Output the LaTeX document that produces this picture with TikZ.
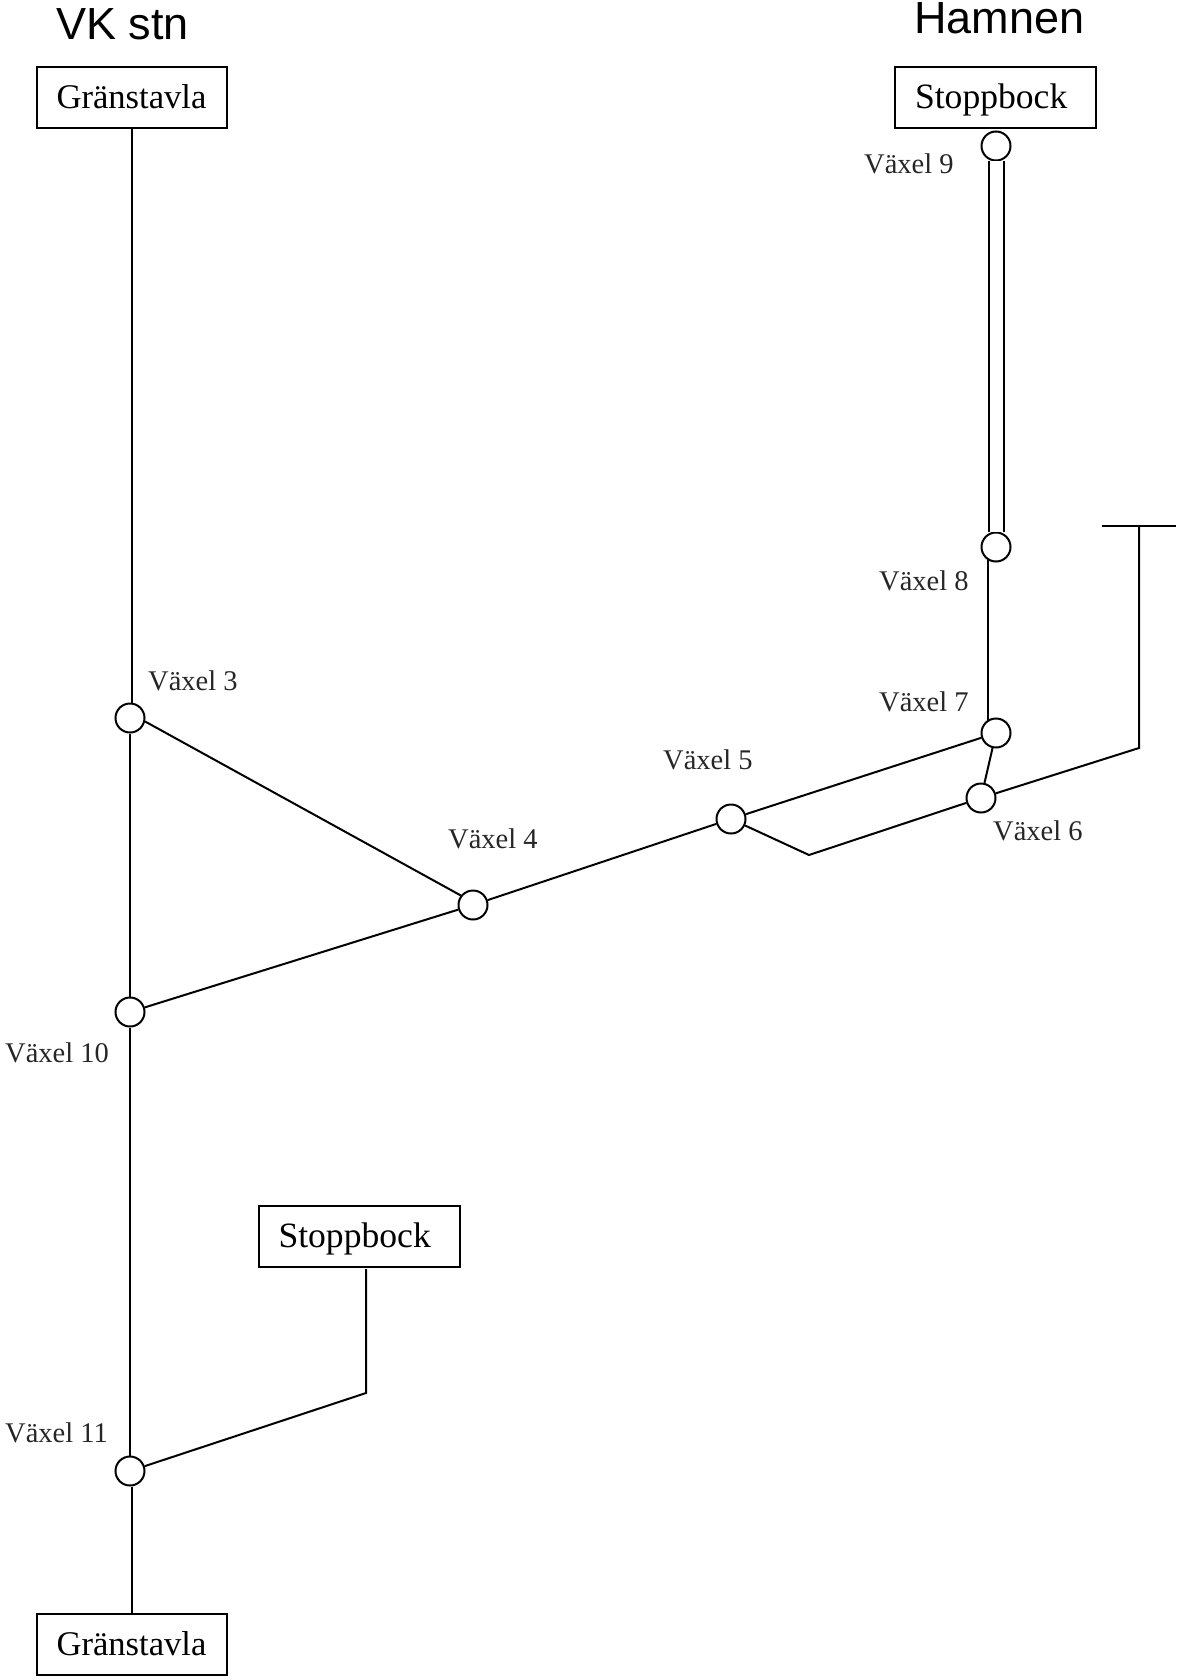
\documentclass[tikz,border=0pt]{standalone}
\usepackage{fontspec}
\setmainfont{Liberation Serif}
\setsansfont{Liberation Sans}
\begin{document}
\begin{tikzpicture}[
    x=1pt,
    y=-1pt,
    board/.style={
        rectangle,
        draw=black,
        line width=2pt,
        minimum width=190pt,
        minimum height=61pt,
        text height=31pt,
        text depth=8pt,
        font=\fontsize{34.6}{38}\selectfont
    },
    stopbox/.style={
        board,
        inner xsep=20pt,
        text width=161pt,
        align=left,
        font=\fontsize{35.6}{38}\selectfont
    },
    switch/.style={
        circle,
        draw=black,
        fill=white,
        line width=2pt,
        minimum size=29pt,
        inner sep=0pt
    },
    switchlabel/.style={
        anchor=base west,
        inner sep=0pt,
        text=black!85,
        font=\fontsize{28.5}{32}\selectfont
    },
    place/.style={
        anchor=base west,
        inner sep=0pt,
        font=\sffamily\fontsize{45}{49}\selectfont
    },
    track/.style={
        line width=2pt,
        draw=black
    }
]

\useasboundingbox (0,0) rectangle (1179,1680);

% Place names
\node[place] (vkstn) at (56,40) {VK stn};
\node[place] (hamnen) at (914,33.5) {Hamnen};

% Boards at the ends of the tracks
\node[board] (grans1) at (131.5,97.5) {Gränstavla};
\node[board] (grans2) at (131.5,1644) {Gränstavla};
\node[stopbox] (stopp1) at (995.5,97.5) {Stoppbock};
\node[stopbox] (stopp2) at (359,1236) {Stoppbock};

% Switches
\node[switch] (v3) at (130,718) {};
\node[switch] (v4) at (473,905) {};
\node[switch] (v5) at (731,819) {};
\node[switch] (v6) at (981,798) {};
\node[switch] (v7) at (996,733) {};
\node[switch] (v8) at (996,547) {};
\node[switch] (v9) at (996,146) {};
\node[switch] (v10) at (130,1012) {};
\node[switch] (v11) at (130,1471) {};

% Switch labels
\node[switchlabel] (lab3) at (148,690) {Växel 3};
\node[switchlabel] (lab4) at (448,848) {Växel 4};
\node[switchlabel] (lab5) at (663,769) {Växel 5};
\node[switchlabel] (lab6) at (993,840) {Växel 6};
\node[switchlabel] (lab7) at (879,711) {Växel 7};
\node[switchlabel] (lab8) at (879,590) {Växel 8};
\node[switchlabel] (lab9) at (864,174) {Växel 9};
\node[switchlabel] (lab10) at (5,1062) {Växel 10};
\node[switchlabel] (lab11) at (5,1442) {Växel 11};

% Free ends and bends of the tracks
\coordinate (knee5) at (809,855);
\coordinate (teebend) at (1139,748);
\coordinate (teetop) at (1139,526);
\coordinate (teeleft) at (1102,526);
\coordinate (teeright) at (1176,526);
\coordinate (knee11) at (366,1393);
\coordinate (stoppend) at (366,1269);

% Left track
\draw[track] (grans1.south) -- (grans1.south |- v3.north);
\draw[track] (v3) -- (v10);
\draw[track] (v10) -- (v11);
\draw[track] (grans2.north |- v11.south) -- (grans2.north);
\draw[track] (v11) -- (knee11) -- (stoppend);

% Triangle and main line to the harbour
\draw[track] (v3.-13) -- (v4.142);
\draw[track] (v10) -- (v4);
\draw[track] (v4) -- (v5);
\draw[track] (v5) -- (v7);
\draw[track] (v5) -- (knee5) -- (v6);
\draw[track] (v6) -- (v7);
\draw[track] (v6) -- (teebend) -- (teetop);
\draw[track] (teeleft) -- (teeright);

% Harbour track
\draw[track] (v8.-122) -- (v7.122);
\draw[track, double, double distance=13pt] (v9) -- (v8);

\end{tikzpicture}
\end{document}
